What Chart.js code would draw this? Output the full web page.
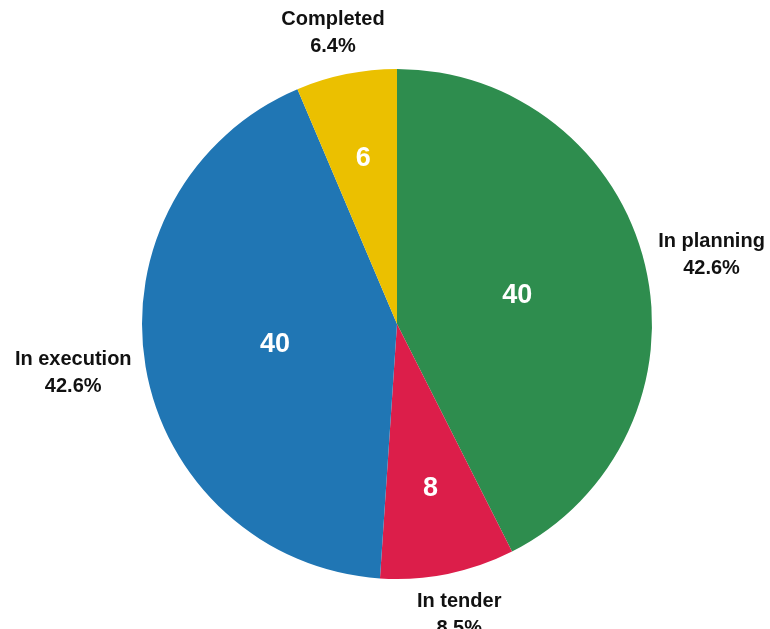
<!DOCTYPE html>
<html>
<head>
<meta charset="utf-8">
<script src="https://cdn.jsdelivr.net/npm/chart.js@4"></script>
<style>
    html, body { margin: 0; padding: 0; background: #fff; }
    #wrap { width: 770px; height: 629px; }
</style>
</head>
<body>
<div id="wrap"><canvas id="pieChart" width="770" height="629"></canvas></div>
<script>
const categories = ['In planning', 'In tender', 'In execution', 'Completed'];
const counts = [40, 8, 40, 6];
const colors = ['#2e8d4e', '#dc1e4a', '#2076b4', '#ebc000'];

const labelFont = 'bold 20px "Liberation Sans", Arial, sans-serif';
const valueFont = 'bold 27px "Liberation Sans", Arial, sans-serif';

const total = counts.reduce((a, b) => a + b, 0);

// draws the count inside each slice and name + percent outside
const sliceLabels = {
    id: 'sliceLabels',
    afterDatasetsDraw(chart) {
        const ctx = chart.ctx;
        const meta = chart.getDatasetMeta(0);
        ctx.save();
        meta.data.forEach((arc, i) => {
            const p = arc.getProps(['x', 'y', 'startAngle', 'endAngle', 'outerRadius'], true);
            const mid = (p.startAngle + p.endAngle) / 2;
            const half = (p.endAngle - p.startAngle) / 2;

            // inner value at the sector centroid
            const rc = 2 * p.outerRadius * Math.sin(half) / (3 * half);
            ctx.font = valueFont;
            ctx.fillStyle = '#ffffff';
            ctx.textAlign = 'center';
            ctx.textBaseline = 'middle';
            ctx.fillText(String(counts[i]), p.x + Math.cos(mid) * rc, p.y + Math.sin(mid) * rc);

            // outer label box placed just beyond the rim
            const pct = (counts[i] / total * 100).toFixed(1) + '%';
            const lines = [categories[i], pct];
            ctx.font = labelFont;
            const w = Math.max(...lines.map(l => ctx.measureText(l).width));
            const lineH = 27;
            const h = lineH * lines.length;
            const ra = p.outerRadius + 15;
            const cx = p.x + Math.cos(mid) * ra + Math.cos(mid) * w / 2;
            const cy = p.y + Math.sin(mid) * ra + Math.sin(mid) * h / 2;
            ctx.fillStyle = '#111111';
            lines.forEach((l, k) => {
                ctx.fillText(l, cx, cy - h / 2 + lineH * (k + 0.5));
            });
        });
        ctx.restore();
    }
};

new Chart(document.getElementById('pieChart').getContext('2d'), {
    type: 'pie',
    data: {
        labels: categories,
        datasets: [{
            data: counts,
            backgroundColor: colors,
            borderWidth: 0,
            hoverOffset: 0
        }]
    },
    options: {
        responsive: false,
        animation: false,
        layout: {
            padding: { top: 69, bottom: 50, left: 24, right: 0 }
        },
        plugins: {
            legend: { display: false },
            tooltip: { enabled: false }
        }
    },
    plugins: [sliceLabels]
});
</script>
</body>
</html>
